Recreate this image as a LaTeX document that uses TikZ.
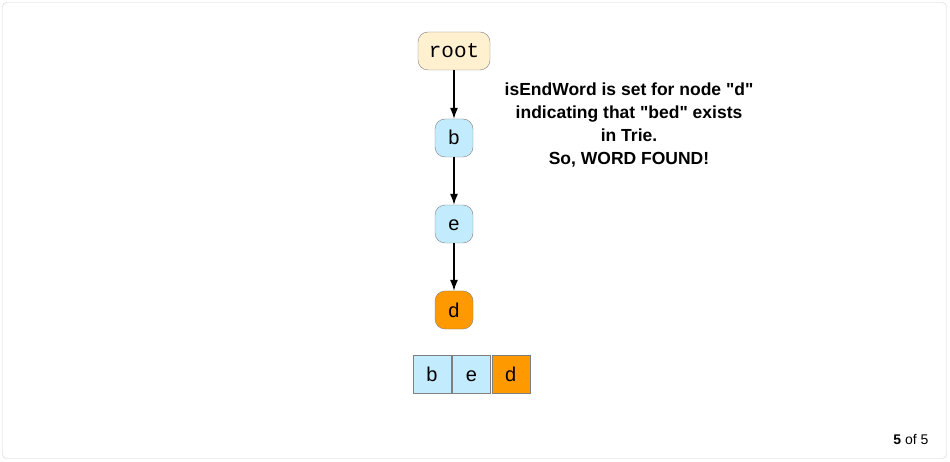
\documentclass[tikz,border=0pt]{standalone}
\usepackage{fontspec}
\setmainfont{Liberation Sans}[Ligatures=TeXOff]
\setmonofont{Liberation Mono}
\usetikzlibrary{positioning,arrows.meta}
\definecolor{rootfill}{HTML}{FFF0CF}
\definecolor{nodefill}{HTML}{C2ECFD}
\definecolor{endfill}{HTML}{FF9900}
\definecolor{edgegray}{HTML}{7F7F7F}
\definecolor{framegray}{HTML}{D0D0D0}
\tikzset{
  trienode/.style={draw=edgegray, fill=nodefill, rounded corners=10pt, minimum width=38pt, minimum height=38pt, inner sep=0pt, text height=14pt, text depth=0pt, font=\fontsize{20}{20}\selectfont},
  rootnode/.style={trienode, fill=rootfill, minimum width=72pt, font=\ttfamily\fontsize{21}{21}\selectfont},
  endnode/.style={trienode, fill=endfill},
  cell/.style={draw=edgegray, fill=nodefill, minimum width=38pt, minimum height=38pt, inner sep=0pt, text height=14pt, text depth=0pt, font=\fontsize{20}{20}\selectfont},
  link/.style={-{Latex[length=11pt,width=8pt]}, line width=1.2pt, black}
}
\begin{document}
\begin{tikzpicture}[x=1pt,y=-1pt]
\useasboundingbox (0,0) rectangle (950,462);
\draw [framegray, rounded corners=4pt] (2.5,2.5) rectangle (946.5,458.5);
% trie nodes
\node [rootnode] (root) at (454,51) {root};
\node [trienode] (b) at (454,138) {b};
\node [trienode] (e) at (454,224) {e};
\node [endnode] (d) at (454,310) {d};
\draw [link] (root) -- (b);
\draw [link] (b) -- (e);
\draw [link] (e) -- (d);
% word cells
\node [cell] (cb) at (432,374) {b};
\node [cell, right=1pt of cb] (ce) {e};
\node [cell, fill=endfill, right=1pt of ce] (cd) {d};
% note
\node [align=center, font=\bfseries\fontsize{17.5}{23}\selectfont] (note) at (629,125) {isEndWord is set for node "d"\\indicating that "bed" exists\\in Trie.\\So, WORD FOUND!};
\node [anchor=east, font=\fontsize{14}{14}\selectfont] (page) at (932,440) {\textbf{5} of 5};
\end{tikzpicture}
\end{document}
